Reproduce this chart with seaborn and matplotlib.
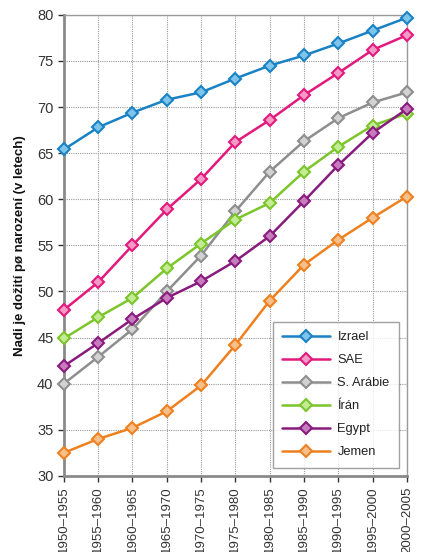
import matplotlib
matplotlib.use("Agg")
import matplotlib.pyplot as plt
import seaborn as sns
import pandas as pd
import numpy as np

periods = ["1950–1955", "1955–1960", "1960–1965", "1965–1970", "1970–1975",
           "1975–1980", "1980–1985", "1985–1990", "1990–1995", "1995–2000", "2000–2005"]
countries = ["Izrael", "SAE", "S. Arábie", "Írán", "Egypt", "Jemen"]
izrael = [65.4, 67.8, 69.4, 70.8, 71.6, 73.1, 74.5, 75.6, 76.9, 78.3, 79.7]
sae = [48.0, 51.0, 55.0, 58.9, 62.2, 66.2, 68.6, 71.3, 73.7, 76.2, 77.8]
s_arabie = [40.0, 42.9, 45.9, 50.0, 53.9, 58.7, 63.0, 66.3, 68.8, 70.5, 71.6]
iran = [44.9, 47.2, 49.3, 52.5, 55.2, 57.8, 59.6, 63.0, 65.7, 68.0, 69.3]
egypt = [41.9, 44.4, 47.0, 49.3, 51.1, 53.3, 56.0, 59.8, 63.7, 67.2, 69.8]
jemen = [32.5, 34.0, 35.2, 37.0, 39.8, 44.2, 49.0, 52.9, 55.6, 58.0, 60.3]
series = [izrael, sae, s_arabie, iran, egypt, jemen]

colors = ["#1a82c4", "#e3197d", "#8e8e8e", "#7cc52b", "#8a1b7e", "#ee8020"]
faces = ["#7fc4ea", "#f59ac6", "#d2d2d2", "#c4eb95", "#c77dbd", "#f7c08a"]

sns.set_style("white")
plt.rcParams['font.family'] = ['Liberation Sans', 'DejaVu Sans']

fig = plt.figure(figsize=(4.23, 5.52), dpi=100)
ax = fig.add_axes([0.151, 0.138, 0.811, 0.835])

x = np.arange(len(periods))
for name, vals, c, fc in zip(countries, series, colors, faces):
    df = pd.DataFrame({"x": x, "y": vals})
    sns.lineplot(data=df, x="x", y="y", ax=ax, color=c, linewidth=1.8,
                 marker="D", markersize=6.5, markerfacecolor=fc,
                 markeredgecolor=c, markeredgewidth=1.5, label=name,
                 clip_on=False, zorder=3)

ax.set_xlim(0, 10)
ax.set_ylim(30, 80)
ax.set_yticks(np.arange(30, 81, 5))
ax.set_xticks(x)
ax.set_xticklabels(periods, rotation=90, fontsize=9.5, color="#333333")
ax.tick_params(axis="y", labelsize=10.5, colors="#333333", length=4, width=1, direction="out", left=True)
ax.tick_params(axis="x", length=4, width=1, direction="out", bottom=True, colors="#333333")
ax.set_xlabel("")
ax.set_ylabel("Nadi je dožití pø narození (v letech)", fontsize=9.5, fontweight="bold",
              color="#111111", labelpad=8)

ax.grid(True, linestyle=(0, (1, 1)), color="#9a9a9a", linewidth=0.8)
ax.set_axisbelow(True)
for side in ["left", "bottom"]:
    ax.spines[side].set_color("#8a8a8a")
    ax.spines[side].set_linewidth(2)
for side in ["top", "right"]:
    ax.spines[side].set_color("#9a9a9a")
    ax.spines[side].set_linewidth(1)

leg = ax.legend(loc="lower right", bbox_to_anchor=(0.995, 0.004), fontsize=9.3,
                frameon=True, fancybox=False, edgecolor="#8a8a8a",
                handlelength=3.7, labelspacing=0.85, borderpad=0.7, handletextpad=0.6)
leg.get_frame().set_linewidth(1.0)
for t in leg.get_texts():
    t.set_color("#222222")

fig.savefig("out.png", dpi=100)
